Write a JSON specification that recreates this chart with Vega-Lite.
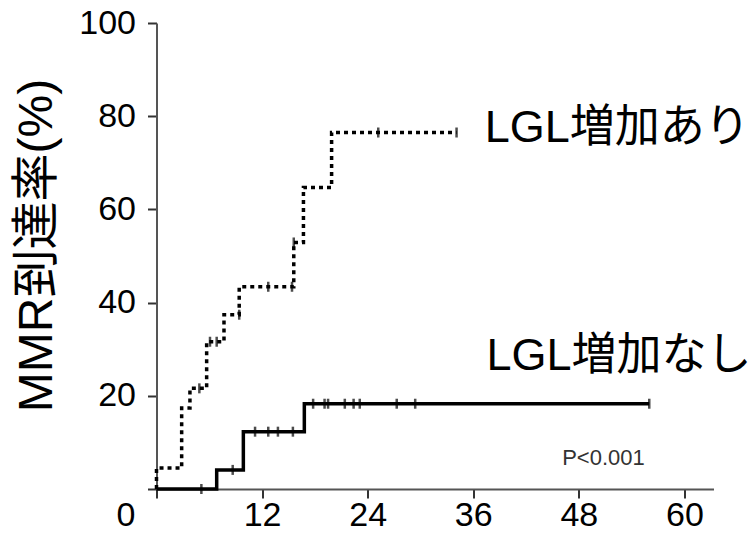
{
  "$schema": "https://vega.github.io/schema/vega-lite/v6.json",
  "width": 557,
  "height": 466,
  "autosize": {"type": "none"},
  "padding": {"left": 156.5, "top": 23, "right": 40, "bottom": 45},
  "background": "white",
  "config": {
    "view": {"stroke": null},
    "font": "Liberation Sans, Noto Sans CJK JP",
    "axis": {
      "grid": false,
      "domainColor": "#555555",
      "domainWidth": 2,
      "tickColor": "#333333",
      "tickWidth": 2,
      "tickSize": 9,
      "labelFont": "Liberation Sans",
      "labelFontSize": 34,
      "labelColor": "#000000"
    }
  },
  "datasets": {
    "curves": [
      {"series": "LGL増加あり", "idx": 0, "month": 0, "rate": 0},
      {"series": "LGL増加あり", "idx": 1, "month": 0, "rate": 4.5},
      {"series": "LGL増加あり", "idx": 2, "month": 2.86, "rate": 17.4},
      {"series": "LGL増加あり", "idx": 3, "month": 3.8, "rate": 21.6},
      {"series": "LGL増加あり", "idx": 4, "month": 5.7, "rate": 31.6},
      {"series": "LGL増加あり", "idx": 5, "month": 7.67, "rate": 37.4},
      {"series": "LGL増加あり", "idx": 6, "month": 9.4, "rate": 43.4},
      {"series": "LGL増加あり", "idx": 7, "month": 15.6, "rate": 52.9},
      {"series": "LGL増加あり", "idx": 8, "month": 16.7, "rate": 64.7},
      {"series": "LGL増加あり", "idx": 9, "month": 19.9, "rate": 76.5},
      {"series": "LGL増加あり", "idx": 10, "month": 34.1, "rate": 76.5},
      {"series": "LGL増加なし", "idx": 0, "month": 0, "rate": 0},
      {"series": "LGL増加なし", "idx": 1, "month": 6.84, "rate": 4.1},
      {"series": "LGL増加なし", "idx": 2, "month": 9.87, "rate": 12.3},
      {"series": "LGL増加なし", "idx": 3, "month": 16.8, "rate": 18.3},
      {"series": "LGL増加なし", "idx": 4, "month": 56, "rate": 18.3}
    ],
    "censor": [
      {"series": "LGL増加あり", "month": 4.87, "rate": 21.6},
      {"series": "LGL増加あり", "month": 6.08, "rate": 31.6},
      {"series": "LGL増加あり", "month": 6.84, "rate": 31.6},
      {"series": "LGL増加あり", "month": 9.4, "rate": 37.4},
      {"series": "LGL増加あり", "month": 12.7, "rate": 43.4},
      {"series": "LGL増加あり", "month": 15.4, "rate": 43.4},
      {"series": "LGL増加あり", "month": 15.6, "rate": 52.9},
      {"series": "LGL増加あり", "month": 25.2, "rate": 76.5},
      {"series": "LGL増加あり", "month": 34.1, "rate": 76.5},
      {"series": "LGL増加なし", "month": 5.1, "rate": 0},
      {"series": "LGL増加なし", "month": 8.66, "rate": 4.1},
      {"series": "LGL増加なし", "month": 11.2, "rate": 12.3},
      {"series": "LGL増加なし", "month": 12.7, "rate": 12.3},
      {"series": "LGL増加なし", "month": 13.8, "rate": 12.3},
      {"series": "LGL増加なし", "month": 15.5, "rate": 12.3},
      {"series": "LGL増加なし", "month": 17.8, "rate": 18.3},
      {"series": "LGL増加なし", "month": 19.1, "rate": 18.3},
      {"series": "LGL増加なし", "month": 19.5, "rate": 18.3},
      {"series": "LGL増加なし", "month": 21.4, "rate": 18.3},
      {"series": "LGL増加なし", "month": 22.4, "rate": 18.3},
      {"series": "LGL増加なし", "month": 23.1, "rate": 18.3},
      {"series": "LGL増加なし", "month": 27.3, "rate": 18.3},
      {"series": "LGL増加なし", "month": 29.4, "rate": 18.3},
      {"series": "LGL増加なし", "month": 56, "rate": 18.3}
    ],
    "seriesLabels": [
      {"text": "LGL増加あり", "month": 37.3, "rate": 74.4},
      {"text": "LGL増加なし", "month": 37.5, "rate": 25.6}
    ],
    "pLabel": [
      {"text": "P<0.001", "month": 46.1, "rate": 5.2}
    ]
  },
  "encoding": {
    "x": {
      "field": "month",
      "type": "quantitative",
      "scale": {"domain": [0, 63.3], "nice": false, "zero": false},
      "axis": {
        "title": null,
        "values": [0, 12, 24, 36, 48, 60],
        "labelPadding": 0,
        "labelFlush": false,
        "labelOverlap": false,
        "labelOffset": {"condition": {"test": "datum.value == 0", "value": -31}, "value": 0}
      }
    },
    "y": {
      "field": "rate",
      "type": "quantitative",
      "scale": {"domain": [0, 100], "nice": false},
      "axis": {
        "title": "MMR到達率(%)",
        "values": [0, 20, 40, 60, 80, 100],
        "labelExpr": "datum.value == 0 ? '' : datum.label",
        "labelPadding": 12,
        "labelFlush": false,
        "titleFont": "Liberation Sans, Noto Sans CJK JP",
        "titleFontSize": 48,
        "titleFontWeight": "normal",
        "titleColor": "#000000",
        "titleAngle": -90,
        "titleAlign": "center",
        "titleBaseline": "middle",
        "titleX": -119,
        "titleY": 222
      }
    }
  },
  "layer": [
    {
      "data": {"name": "curves"},
      "mark": {"type": "line", "interpolate": "step-after", "strokeWidth": 3.5, "color": "#000000", "strokeCap": "butt"},
      "encoding": {
        "order": {"field": "idx", "type": "quantitative"},
        "strokeDash": {
          "field": "series",
          "type": "nominal",
          "scale": {"domain": ["LGL増加あり", "LGL増加なし"], "range": [[4, 4], [1, 0]]},
          "legend": null
        }
      }
    },
    {
      "data": {"name": "censor"},
      "mark": {"type": "tick", "orient": "vertical", "size": 10, "thickness": 2.5, "color": "#000000"},
      "encoding": {}
    },
    {
      "data": {"name": "seriesLabels"},
      "mark": {"type": "text", "align": "left", "baseline": "alphabetic", "fontSize": 45, "color": "#000000", "font": "Liberation Sans, Noto Sans CJK JP"},
      "encoding": {"text": {"field": "text"}}
    },
    {
      "data": {"name": "pLabel"},
      "mark": {"type": "text", "align": "left", "baseline": "alphabetic", "fontSize": 22, "color": "#333333", "font": "Liberation Sans"},
      "encoding": {"text": {"field": "text"}}
    }
  ]
}
